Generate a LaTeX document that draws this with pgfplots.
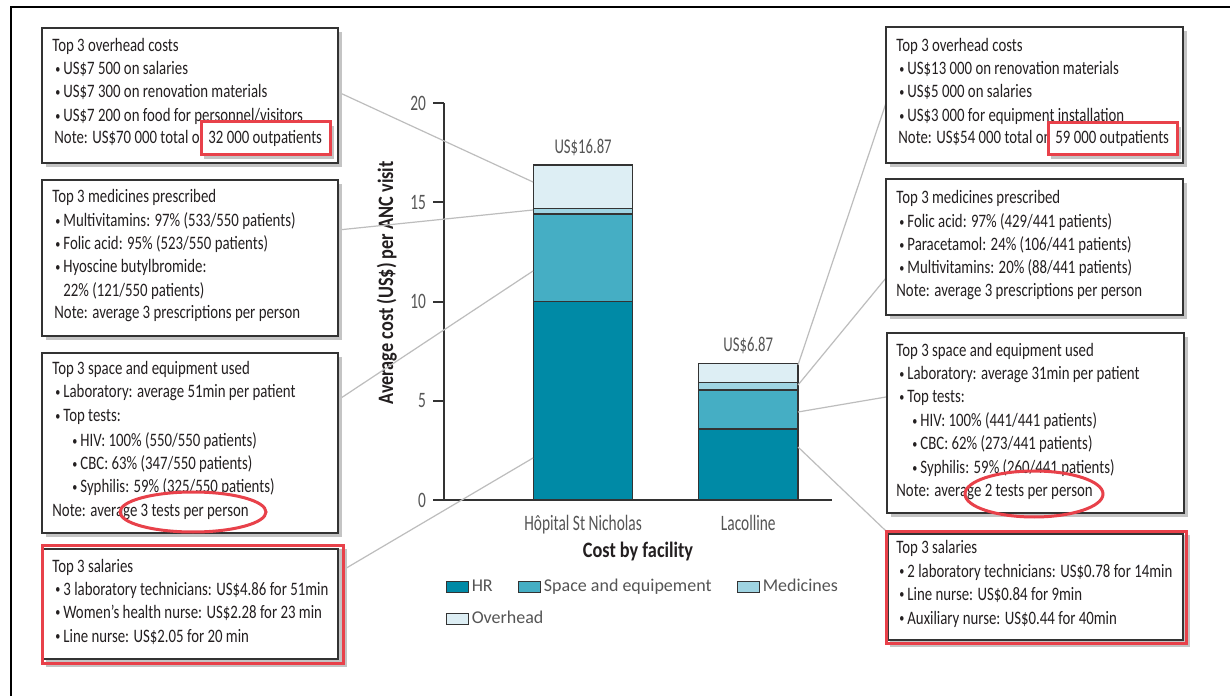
\documentclass[border=0pt]{standalone}
\usepackage{fontspec}
\setmainfont{Carlito}
\newfontfamily\condA[FakeStretch=0.7]{Carlito}
\newfontfamily\condB[FakeStretch=0.78]{Carlito}
\newfontfamily\condC[FakeStretch=0.83]{Carlito}
\usepackage{pgfplots}
\pgfplotsset{compat=1.18}
\definecolor{hr}{HTML}{008AA6}
\definecolor{space}{HTML}{45AEC4}
\definecolor{med}{HTML}{9FD4E2}
\definecolor{over}{HTML}{DDEEF4}
\definecolor{barc}{HTML}{333333}
\definecolor{axisc}{HTML}{333333}
\definecolor{tickc}{HTML}{555555}
\definecolor{txt}{HTML}{231F20}
\definecolor{boxc}{HTML}{333333}
\definecolor{shad}{HTML}{C4C4C4}
\definecolor{redc}{HTML}{E8414A}
\definecolor{linec}{HTML}{BDBDBD}
\newcommand{\tickfont}{\condA\fontsize{11pt}{13pt}\selectfont}
\newcommand{\boxfont}{\condB\fontsize{9.5pt}{11pt}\selectfont}
\newcommand{\labfont}{\condC\bfseries\fontsize{11pt}{13pt}\selectfont}
\newcommand{\legfont}{\fontsize{9pt}{11pt}\selectfont}
\newcommand{\lblfont}{\condA\fontsize{10.5pt}{12pt}\selectfont}
\newcommand{\TL}[3]{\node[anchor=base west,inner sep=0pt,font=\boxfont,text=txt] at (#1,696-#2) {#3};}
\newcommand{\BL}[3]{\node[anchor=base west,inner sep=0pt,font=\boxfont,text=txt] at (#1-1,696-#2) {\raisebox{0.9pt}{\fontsize{6.5pt}{7pt}\selectfont\textbullet}};\node[anchor=base west,inner sep=0pt,font=\boxfont,text=txt] at (#1+7,696-#2) {#3};}
\newcommand{\BX}[4]{\fill[shad] (#1+4,696-#2-4) rectangle (#3+4,696-#4-4);\draw[boxc,line width=0.7pt,fill=white] (#1,696-#2) rectangle (#3,696-#4);}
\begin{document}
\begin{tikzpicture}
\path[use as bounding box, fill=white] (0,0) rectangle (615pt,348pt);
\begin{axis}[
  at={(222pt,98pt)}, anchor=south west,
  scale only axis, width=194pt, height=198.5pt,
  ybar stacked, bar width=49.6pt,
  xmin=-0.842, xmax=1.507, ymin=0, ymax=20,
  clip=false,
  axis x line=bottom, axis y line=left,
  every outer x axis line/.append style={-, draw=axisc, line width=1pt},
  every outer y axis line/.append style={-, draw=axisc, line width=1pt},
  xtick={0,1}, xticklabels={Hôpital St Nicholas, Lacolline},
  x tick style={draw=none},
  ytick={0,5,10,15,20}, tick align=outside,
  y tick style={draw=axisc, line width=1pt}, major tick length=5.5pt,
  /pgf/number format/assume math mode=true,
  yticklabel style={font=\tickfont, text=tickc},
  xticklabel style={font=\tickfont, text=tickc, yshift=1.5pt},
  xlabel={Cost by facility},
  ylabel={Average cost (US\$) per ANC visit},
  xlabel style={font=\labfont, text=txt, at={(axis description cs:0.5,-0.145)}, anchor=base},
  ylabel style={font=\labfont, text=txt, at={(axis description cs:-0.131,0.547)}, anchor=base},
  legend style={at={(axis description cs:0.003,-0.19)}, anchor=north west, draw=none, fill=none,
    font=\legfont, text=tickc, inner sep=0pt, row sep=4.5pt,
    nodes={inner sep=1.5pt, text height=6.5pt, text depth=2pt},
    /tikz/every even column/.append style={column sep=11pt}},
  legend cell align=left, legend columns=3,
  legend image code/.code={\draw[#1,line width=0.6pt] (0pt,-2.75pt) rectangle (11pt,2.75pt);},
]
\addplot[fill=hr, draw=barc, line width=0.7pt] coordinates {(0,10.00) (1,3.58)};
\addplot[fill=space, draw=barc, line width=0.7pt] coordinates {(0,4.41) (1,1.96)};
\addplot[fill=med, draw=barc, line width=0.7pt] coordinates {(0,0.27) (1,0.37)};
\addplot[fill=over, draw=barc, line width=0.7pt] coordinates {(0,2.19) (1,0.96)};
\addlegendentry{HR}
\addlegendentry{Space and equipement}
\addlegendentry{Medicines}
\addlegendentry{\rlap{Overhead}}
\node[anchor=base, yshift=6pt, font=\lblfont, text=tickc, inner sep=0pt] at (axis cs:0,16.87) {US\$16.87};
\node[anchor=base, yshift=6pt, font=\lblfont, text=tickc, inner sep=0pt] at (axis cs:1,6.87) {US\$6.87};
\end{axis}
\begin{scope}[x=0.5pt,y=0.5pt]
% frame
\draw[black, line width=1pt] (11,0) -- (11,696-7) -- (1230,696-7);
% connector lines
\begin{scope}[linec, line width=0.6pt]
\draw (338,696-92) -- (533,696-182);
\draw (338,696-230) -- (533,696-210);
\draw (338,696-400) -- (533,696-271);
\draw (343,696-570) -- (533,696-458);
\draw (798,696-365) -- (886,696-103);
\draw (798,696-385) -- (886,696-278);
\draw (798,696-412) -- (886,696-397);
\draw (798,696-447) -- (886,696-531);
\end{scope}
% left boxes
\BX{42}{28}{338}{163}
\BX{42}{180}{338}{336}
\BX{42}{353}{338}{533}
\fill[shad] (46,696-549) rectangle (347,696-667);
\draw[boxc,line width=0.7pt,fill=white] (43,696-549) rectangle (338,696-659);
\draw[redc,line width=1.5pt] (42,696-545) rectangle (343,696-663);
% right boxes
\BX{886}{27}{1183}{163}
\BX{886}{179}{1183}{315}
\BX{887}{333}{1184}{513}
\fill[shad] (890,696-535) rectangle (1190,696-647);
\draw[boxc,line width=0.7pt,fill=white] (888,696-534) rectangle (1183,696-640);
\draw[redc,line width=1.5pt] (886,696-531) rectangle (1186,696-643);
% L1
\TL{52}{52}{Top 3 overhead costs}
\BL{56}{75}{US\$7 500 on salaries}
\BL{56}{98}{US\$7 300 on renovation materials}
\BL{56}{122}{US\$7 200 on food for personnel/visitors}
\TL{54}{144}{Note: US\$70 000 total on}
\fill[shad] (204,696-126) rectangle (334,696-159);
\draw[redc,line width=1.5pt,fill=white] (201,696-122) rectangle (330,696-155);
\TL{208}{144}{32 000 outpatients}
% L2
\TL{52}{203}{Top 3 medicines prescribed}
\BL{56}{227}{Multivitamins: 97\% (533/550 patients)}
\BL{56}{250}{Folic acid: 95\% (523/550 patients)}
\BL{56}{273}{Hyoscine butylbromide:}
\TL{63}{297}{22\% (121/550 patients)}
\TL{54}{319}{Note: average 3 prescriptions per person}
% L3
\TL{52}{375}{Top 3 space and equipment used}
\BL{56}{398}{Laboratory: average 51min per patient}
\BL{56}{422}{Top tests:}
\BL{73}{447}{HIV: 100\% (550/550 patients)}
\BL{73}{470}{CBC: 63\% (347/550 patients)}
\BL{73}{493}{Syphilis: 59\% (325/550 patients)}
\TL{52}{517}{Note: average 3 tests per person}
\draw[redc,line width=1.5pt] (193,696-512) ellipse [x radius=73, y radius=20];
% L4
\TL{52}{572}{Top 3 salaries}
\BL{56}{595}{3 laboratory technicians: US\$4.86 for 51min}
\BL{56}{618}{Women’s health nurse: US\$2.28 for 23 min}
\BL{56}{642}{Line nurse: US\$2.05 for 20 min}
% R1
\TL{896}{52}{Top 3 overhead costs}
\BL{900}{75}{US\$13 000 on renovation materials}
\BL{900}{98}{US\$5 000 on salaries}
\BL{900}{122}{US\$3 000 for equipment installation}
\TL{898}{144}{Note: US\$54 000 total on}
\fill[shad] (1051,696-127) rectangle (1181,696-159);
\draw[redc,line width=1.5pt,fill=white] (1048,696-123) rectangle (1177,696-155);
\TL{1055}{144}{59 000 outpatients}
% R2
\TL{896}{204}{Top 3 medicines prescribed}
\BL{900}{228}{Folic acid: 97\% (429/441 patients)}
\BL{900}{251}{Paracetamol: 24\% (106/441 patients)}
\BL{900}{274}{Multivitamins: 20\% (88/441 patients)}
\TL{896}{297}{Note: average 3 prescriptions per person}
% R3
\TL{896}{357}{Top 3 space and equipment used}
\BL{900}{380}{Laboratory: average 31min per patient}
\BL{900}{403}{Top tests:}
\BL{913}{427}{HIV: 100\% (441/441 patients)}
\BL{913}{450}{CBC: 62\% (273/441 patients)}
\BL{913}{474}{Syphilis: 59\% (260/441 patients)}
\TL{896}{497}{Note: average 2 tests per person}
\draw[redc,line width=1.5pt] (1034,696-494) ellipse [x radius=69, y radius=23];
% R4
\TL{896}{553}{Top 3 salaries}
\BL{900}{577}{2 laboratory technicians: US\$0.78 for 14min}
\BL{900}{600}{Line nurse: US\$0.84 for 9min}
\BL{900}{624}{Auxiliary nurse: US\$0.44 for 40min}
\end{scope}
\end{tikzpicture}
\end{document}
